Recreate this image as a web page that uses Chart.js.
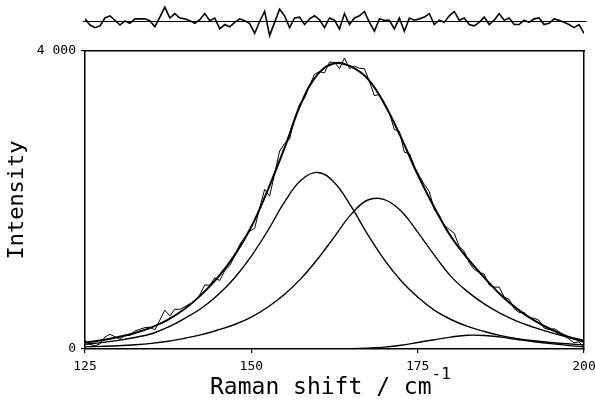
<!DOCTYPE html>
<html><head><meta charset="utf-8">
<script src="https://cdn.jsdelivr.net/npm/chart.js@4.4.1/dist/chart.umd.min.js"></script>
<style>
html,body{margin:0;padding:0;background:#fff;}
#wrap{position:relative;width:595px;height:412px;overflow:hidden;background:#fff;}
canvas{position:absolute;left:0;top:0;}
#xtitle{position:absolute;left:210px;top:375px;font:23px/23px "DejaVu Sans Mono",monospace;color:#000;white-space:nowrap;}
#xtitle span{position:relative;top:-15px;font-size:16px;}
</style></head><body>
<div id="wrap">
<canvas id="main" width="595" height="412" style="width:595px;height:412px"></canvas>
<canvas id="res" width="595" height="45" style="width:595px;height:45px"></canvas>
<div id="xtitle">Raman shift / cm<span>-1</span></div>
</div>
<script>
// Fit grid (Raman shift, cm-1)
const xFit = [125,127.5,130,132.5,135,137.5,140,142.5,145,147.5,150,152.5,155,157.5,160,162.5,165,167.5,170,172.5,175,177.5,180,182.5,185,187.5,190,192.5,195,197.5,200];
// Total fitted curve
const sumFit = [88,118,160,215,290,395,540,730,965,1260,1640,2140,2700,3300,3690,3835,3790,3625,3290,2840,2340,1900,1510,1215,960,725,535,385,265,170,110];
// Component bands
const comp1 = [62,85,115,155,205,295,412,547,728,957,1247,1593,1974,2268,2370,2233,1913,1536,1197,917,697,521,396,303,235,180,140,110,88,70,55];
const comp2 = [28,35,44,57,76,104,145,193,256,329,428,564,735,948,1212,1508,1807,2000,2005,1853,1569,1260,975,770,605,475,370,290,220,160,90];
const comp3 = [0,0,0,0,0,0,0,0,0,0,0,0,0,0,0,2,5,12,25,50,88,125,160,185,182,160,128,98,72,48,28];
// Measured spectrum
const xData = [125,125.75,126.5,127.25,128,128.75,129.5,130.25,131,131.75,132.5,133.25,134,134.75,135.5,136.25,137,137.75,138.5,139.25,140,140.75,141.5,142.25,143,143.75,144.5,145.25,146,146.75,147.5,148.25,149,149.75,150.5,151.25,152,152.75,153.5,154.25,155,155.75,156.5,157.25,158,158.75,159.5,160.25,161,161.75,162.5,163.25,164,164.75,165.5,166.25,167,167.75,168.5,169.25,170,170.75,171.5,172.25,173,173.75,174.5,175.25,176,176.75,177.5,178.25,179,179.75,180.5,181.25,182,182.75,183.5,184.25,185,185.75,186.5,187.25,188,188.75,189.5,190.25,191,191.75,192.5,193.25,194,194.75,195.5,196.25,197,197.75,198.5,199.25,200];
const yData = [115,61,43,70,162,197,165,130,187,181,
242,265,287,292,257,388,522,446,534,533,
567,606,636,729,858,857,954,919,1052,1118,
1251,1401,1497,1580,1619,1890,2143,2052,2355,2658,
2758,2817,3096,3285,3369,3537,3688,3723,3707,3851,
3848,3764,3906,3764,3796,3768,3763,3591,3401,3417,
3303,3168,2944,2921,2641,2626,2453,2323,2209,2113,
1869,1796,1657,1607,1554,1375,1310,1159,1068,1028,
1005,859,832,830,700,666,542,489,488,421,
412,385,282,259,273,231,180,133,83,97,
20];
// Residual (data - fit)
const residual = [27,-36,-63,-45,36,58,13,-36,5,-18,
27,27,27,9,-54,45,148,36,81,36,
27,9,-18,18,81,9,36,-76,-31,-54,
-9,27,9,-22,-121,0,103,-144,-9,126,
58,-63,36,45,-31,27,58,18,-63,36,
13,-76,81,-31,36,58,103,-9,-99,27,
13,13,-76,36,-99,36,13,27,45,81,
-31,13,-9,58,103,13,36,-31,-45,-9,
45,-31,13,81,13,36,-31,-31,13,-9,
27,36,-31,-18,27,13,-9,-31,-63,-31,
-121];
const resZeroX = [124.7,200.4];
const resZeroY = [0,0];
// Axis ticks
const xTicks = [125,150,175,200];
const yTicks = [0,4000];
const yTickLabels = ['0','4 000'];

const pts = (xs, ys) => xs.map((x,i)=>({x:x, y:ys[i]}));
const tickFont = {family:'DejaVu Sans Mono', size:13};
const line = (xs, ys, w, smooth) => ({data:pts(xs,ys), borderColor:'#000', backgroundColor:'#000', borderWidth:w, pointRadius:0, fill:false, tension: smooth ? 0.4 : 0});

new Chart(document.getElementById('main'), {
  type:'line',
  data:{datasets:[
    line(xData, yData, 1, false),
    line(xFit, sumFit, 2, true),
    line(xFit, comp1, 1.4, true),
    line(xFit, comp2, 1.4, true),
    line(xFit, comp3, 1.4, true)
  ]},
  options:{
    responsive:false, animation:false, devicePixelRatio:1,
    plugins:{legend:{display:false}, tooltip:{enabled:false}},
    layout:{padding:{left:0,right:11,top:51,bottom:0}},
    scales:{
      x:{type:'linear', position:'bottom', min:125, max:200,
        afterBuildTicks: s => { s.ticks = xTicks.map(v=>({value:v})); },
        afterFit: s => { s.height = 63; s.paddingLeft = 0; s.paddingRight = 0; },
        ticks:{color:'#000', font:tickFont, padding:6, maxRotation:0, autoSkip:false},
        grid:{display:true, drawOnChartArea:false, tickLength:4, color:'#000', lineWidth:1.2},
        border:{display:true, color:'#000', width:1.5}},
      y:{type:'linear', position:'left', min:0, max:4000,
        afterBuildTicks: s => { s.ticks = yTicks.map(v=>({value:v})); },
        afterFit: s => { s.width = 85; },
        ticks:{color:'#000', font:tickFont, padding:5, callback:(v)=>yTickLabels[yTicks.indexOf(v)]},
        grid:{display:true, drawOnChartArea:false, tickLength:4, color:'#000', lineWidth:1.2},
        border:{display:true, color:'#000', width:1.5},
        title:{display:true, text:'Intensity', color:'#000', font:{family:'DejaVu Sans Mono', size:22}, padding:{top:4,bottom:0}}},
      xTop:{type:'linear', position:'top', min:125, max:200,
        ticks:{display:false}, grid:{display:false},
        border:{display:true, color:'#000', width:1.5},
        afterFit: s => { s.height = 0; }},
      yRight:{type:'linear', position:'right', min:0, max:4000,
        ticks:{display:false}, grid:{display:false},
        border:{display:true, color:'#000', width:1.5},
        afterFit: s => { s.width = 0; }}
    }
  }
});

new Chart(document.getElementById('res'), {
  type:'line',
  data:{datasets:[
    Object.assign(line(resZeroX, resZeroY, 1, false), {clip:false}),
    line(xData, residual, 1.6, false)
  ]},
  options:{
    responsive:false, animation:false, devicePixelRatio:1,
    plugins:{legend:{display:false}, tooltip:{enabled:false}},
    layout:{padding:{left:85,right:11,top:1,bottom:3}},
    scales:{
      x:{type:'linear', display:false, min:125, max:200},
      y:{type:'linear', display:false, min:-210, max:210}
    }
  }
});
</script>
</body></html>
